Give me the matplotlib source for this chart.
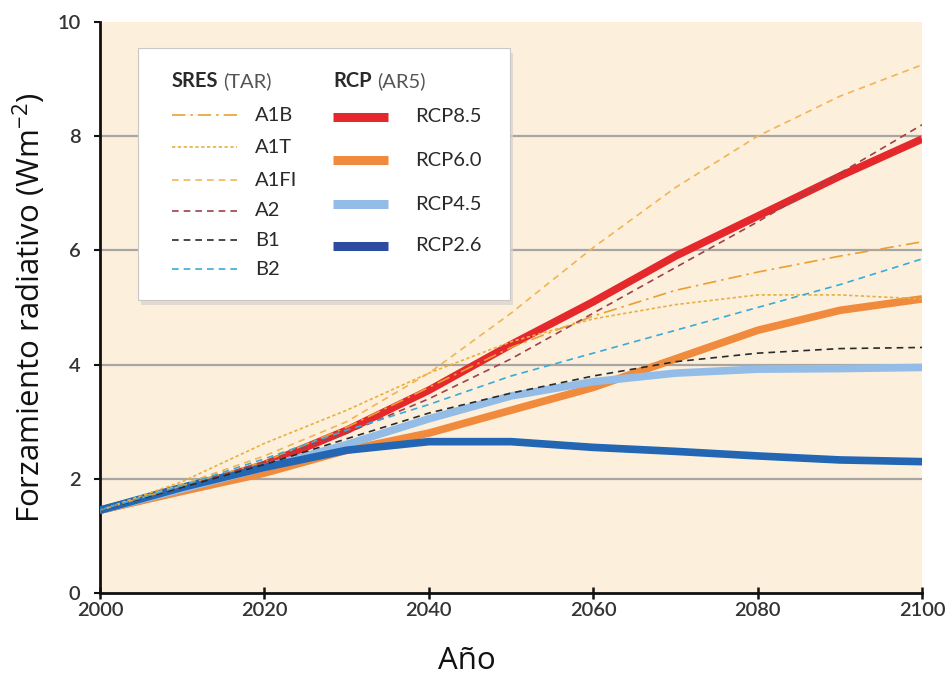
import matplotlib
matplotlib.use("Agg")
import matplotlib.pyplot as plt
from matplotlib.patches import FancyBboxPatch, Rectangle
from matplotlib.lines import Line2D

plt.rcParams['mathtext.fontset'] = 'custom'
plt.rcParams['mathtext.rm'] = 'Open Sans'
plt.rcParams['mathtext.it'] = 'Open Sans'

years = [2000, 2010, 2020, 2030, 2040, 2050, 2060, 2070, 2080, 2090, 2100]

# RCP pathways (AR5)
rcp85 = [1.45, 1.80, 2.25, 2.85, 3.55, 4.35, 5.10, 5.90, 6.60, 7.30, 7.95]
rcp60 = [1.45, 1.78, 2.10, 2.50, 2.80, 3.20, 3.60, 4.10, 4.60, 4.95, 5.15]
rcp45 = [1.45, 1.82, 2.20, 2.60, 3.05, 3.45, 3.70, 3.85, 3.92, 3.93, 3.95]
rcp26 = [1.45, 1.85, 2.20, 2.50, 2.65, 2.65, 2.55, 2.48, 2.40, 2.33, 2.30]

# SRES scenarios (TAR)
a1b = [1.45, 1.88, 2.30, 2.90, 3.60, 4.30, 4.85, 5.30, 5.62, 5.90, 6.15]
a1t = [1.45, 1.95, 2.62, 3.20, 3.85, 4.40, 4.80, 5.05, 5.22, 5.22, 5.15]
a1fi = [1.45, 1.90, 2.40, 3.00, 3.85, 4.90, 6.05, 7.10, 8.00, 8.70, 9.25]
a2 = [1.45, 1.85, 2.30, 2.80, 3.40, 4.10, 4.90, 5.70, 6.50, 7.35, 8.20]
b1 = [1.45, 1.85, 2.25, 2.70, 3.15, 3.50, 3.80, 4.05, 4.20, 4.28, 4.30]
b2 = [1.45, 1.88, 2.35, 2.85, 3.30, 3.80, 4.20, 4.60, 5.00, 5.40, 5.85]

rcp_names = ["RCP8.5", "RCP6.0", "RCP4.5", "RCP2.6"]
rcp_series = [rcp85, rcp60, rcp45, rcp26]
rcp_colors = ["#E4282C", "#F08A3C", "#93BDE6", "#2366B4"]
rcp_legend_colors = ["#E4282C", "#F08A3C", "#93BDE6", "#2D4CA0"]

sres_names = ["A1B", "A1T", "A1FI", "A2", "B1", "B2"]
sres_series = [a1b, a1t, a1fi, a2, b1, b2]
sres_colors = ["#E9A030", "#E8B040", "#F2B455", "#A0404C", "#2A2A2A", "#3AAAD8"]
sres_dashes = [(8, 3, 1.5, 3), (2, 1.5), (4, 3), (4, 3), (4, 3), (4, 3)]

xticks = [2000, 2020, 2040, 2060, 2080, 2100]
yticks = [0, 2, 4, 6, 8, 10]

fig = plt.figure(figsize=(9.48, 6.79), dpi=100)
ax = fig.add_axes([0.1055, 0.1267, 0.8671, 0.8409])
ax.set_facecolor("#FCF0DD")
ax.set_xlim(2000, 2100)
ax.set_ylim(0, 10)

for v in [2, 4, 6, 8]:
    ax.axhline(v, color="#A8A6A2", lw=1.6, zorder=1)

for name, s, c in zip(rcp_names, rcp_series, rcp_colors):
    ax.plot(years, s, color=c, lw=5.5, solid_capstyle="butt", zorder=3)

for name, s, c, d in zip(sres_names, sres_series, sres_colors, sres_dashes):
    ax.plot(years, s, color=c, lw=1.2, dashes=d, zorder=4)

for sp in ["top", "right"]:
    ax.spines[sp].set_visible(False)
for sp in ["left", "bottom"]:
    ax.spines[sp].set_linewidth(2.0)
    ax.spines[sp].set_color("#111111")

tick_font = dict(family=["Lato", "DejaVu Sans"], size=14.5, color="#333333",
                 fontweight="semibold")
ax.set_xticks(xticks)
ax.set_xticklabels([str(t) for t in xticks], **tick_font)
ax.set_yticks(yticks)
ax.set_yticklabels([str(t) for t in yticks], **tick_font)
ax.tick_params(axis="x", direction="inout", length=9, width=1.8, color="#111111", pad=2)
ax.tick_params(axis="y", direction="out", length=4, width=1.5, color="#111111", pad=10)

label_font = dict(family=["Open Sans", "DejaVu Sans"], size=22.5, color="#111111")
ax.set_xlabel("Año", **label_font)
ax.set_ylabel("Forzamiento radiativo (Wm$^{-2}$)", **label_font)
ax.xaxis.set_label_coords(0.446, -0.092)
ax.yaxis.set_label_coords(-0.063, 0.50)

# Legend panel
box = FancyBboxPatch((0.046, 0.513), 0.453, 0.441, boxstyle="square,pad=0",
                     transform=ax.transAxes, facecolor="white", edgecolor="#C8C8C8",
                     lw=0.8, zorder=10)
shadow = Rectangle((0.050, 0.505), 0.453, 0.441, transform=ax.transAxes,
                   facecolor="#D8D2C8", edgecolor="none", alpha=0.7, zorder=9)
ax.add_patch(shadow)
ax.add_patch(box)

leg_font = dict(family=["Lato", "DejaVu Sans"], size=14.5, color="#2A2A2A")
ax.text(0.0876, 0.896, "SRES", transform=ax.transAxes, fontweight="bold",
        va="center", ha="left", zorder=11, **leg_font)
ax.text(0.150, 0.896, "(TAR)", transform=ax.transAxes, va="center", ha="left",
        zorder=11, **{**leg_font, "color": "#555555"})
ax.text(0.2835, 0.896, "RCP", transform=ax.transAxes, fontweight="bold",
        va="center", ha="left", zorder=11, **leg_font)
ax.text(0.337, 0.896, "(AR5)", transform=ax.transAxes, va="center", ha="left",
        zorder=11, **{**leg_font, "color": "#555555"})

sres_rows = [0.837, 0.781, 0.723, 0.669, 0.618, 0.567]
for name, c, d, yy in zip(sres_names, sres_colors, sres_dashes, sres_rows):
    ax.add_line(Line2D([0.0876, 0.1667], [yy, yy], transform=ax.transAxes,
                       color=c, lw=1.2, dashes=d, zorder=11))
    ax.text(0.1886, yy, name, transform=ax.transAxes, va="center", ha="left",
            zorder=11, **leg_font)

rcp_rows = [0.834, 0.758, 0.681, 0.608]
for name, c, yy in zip(rcp_names, rcp_legend_colors, rcp_rows):
    ax.add_line(Line2D([0.2835, 0.350], [yy, yy], transform=ax.transAxes,
                       color=c, lw=6.5, solid_capstyle="butt", zorder=11))
    ax.text(0.383, yy, name, transform=ax.transAxes, va="center", ha="left",
            zorder=11, **leg_font)

fig.savefig("out.png", dpi=100, facecolor="white")
